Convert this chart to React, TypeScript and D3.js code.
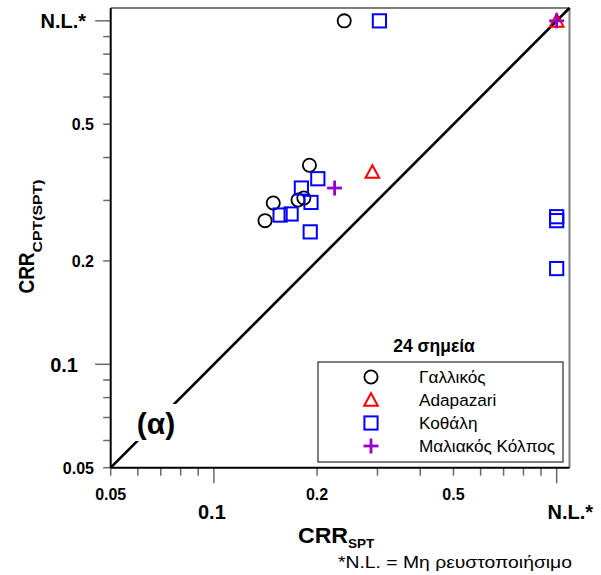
import React from "react";
import * as d3 from "d3";

// N.L. (non-liquefiable) cases are plotted at CRR = 1.0
const NL = 1.0;

const gallikosX = [0.24, 0.19, 0.149, 0.141, 0.176, 0.183];
const gallikosY = [NL, 0.38, 0.295, 0.262, 0.301, 0.305];

const adapazariX = [0.29, NL];
const adapazariY = [0.363, NL];

const kothaliX = [0.304, 0.201, 0.18, 0.192, 0.156, 0.168, 0.191, NL, NL, NL];
const kothaliY = [NL, 0.347, 0.326, 0.296, 0.272, 0.274, 0.243, 0.269, 0.262, 0.19];

const maliakosX = [0.225, NL];
const maliakosY = [0.326, NL];

const majorTicks = [0.1, 1.0];
const minorTicks = [0.05, 0.06, 0.07, 0.08, 0.09, 0.2, 0.3, 0.4, 0.5, 0.6, 0.7, 0.8, 0.9];

const xTickLabels = [
  { value: 0.05, text: "0.05", big: false },
  { value: 0.1, text: "0.1", big: true },
  { value: 0.2, text: "0.2", big: false },
  { value: 0.5, text: "0.5", big: false },
  { value: NL, text: "N.L.*", big: true },
];
const yTickLabels = [
  { value: 0.05, text: "0.05", big: false },
  { value: 0.1, text: "0.1", big: true },
  { value: 0.2, text: "0.2", big: false },
  { value: 0.5, text: "0.5", big: false },
  { value: NL, text: "N.L.*", big: true },
];

const legendTitle = "24 σημεία";
const seriesNames = ["Γαλλικός", "Adapazari", "Κοθάλη", "Μαλιακός Κόλπος"];
const footnote = "*N.L. = Μη ρευστοποιήσιμο";

const FONT = "'Liberation Sans', Arial, Helvetica, sans-serif";
const W = 601;
const H = 575;
const left = 110.7;
const right = 569.5;
const top = 8;
const bottom = 467.7;
const domain: [number, number] = [0.05, 1.09];

const x = d3.scaleLog().domain(domain).range([left, right]);
const y = d3.scaleLog().domain(domain).range([bottom, top]);

const COLORS = ["#000000", "#ff0000", "#0000ff", "#9900cc"];

function Marker({ kind, cx, cy }: { kind: number; cx: number; cy: number }) {
  const c = COLORS[kind];
  if (kind === 0) {
    return <circle cx={cx} cy={cy} r={6.6} fill="none" stroke={c} strokeWidth={1.8} />;
  }
  if (kind === 1) {
    const s = 6.8;
    const pts = [
      [cx, cy - s],
      [cx + s, cy + s * 0.85],
      [cx - s, cy + s * 0.85],
    ]
      .map((p) => p.join(","))
      .join(" ");
    return <polygon points={pts} fill="none" stroke={c} strokeWidth={2} />;
  }
  if (kind === 2) {
    return (
      <rect x={cx - 6.6} y={cy - 6.6} width={13.2} height={13.2} fill="none" stroke={c} strokeWidth={2} />
    );
  }
  const s = 7.5;
  return (
    <g stroke={c} strokeWidth={2.8}>
      <line x1={cx - s} x2={cx + s} y1={cy} y2={cy} />
      <line x1={cx} x2={cx} y1={cy - s} y2={cy + s} />
    </g>
  );
}

export default function App() {
  const series = [
    { xs: gallikosX, ys: gallikosY },
    { xs: adapazariX, ys: adapazariY },
    { xs: kothaliX, ys: kothaliY },
    { xs: maliakosX, ys: maliakosY },
  ];

  const tickColor = "#6a6a6a";
  const frameColor = "#808080";

  const legX = 318;
  const legY = 362;
  const legW = 245;
  const legH = 100;
  const rowYs = [377, 400, 423, 446];

  return (
    <svg
      width={W}
      height={H}
      viewBox={`0 0 ${W} ${H}`}
      style={{ position: "absolute", left: 0, top: 0, background: "#fff" }}
      fontFamily={FONT}
    >
      <rect x={0} y={0} width={W} height={H} fill="#fff" />

      {/* frame: gray top/right, black left/bottom axes */}
      <line x1={left} x2={right} y1={top} y2={top} stroke={frameColor} strokeWidth={2} />
      <line x1={right} x2={right} y1={top} y2={bottom} stroke={frameColor} strokeWidth={2} />

      {/* y ticks */}
      {minorTicks.map((v) => (
        <line key={"ym" + v} x1={left - 7.5} x2={left} y1={y(v)} y2={y(v)} stroke={tickColor} strokeWidth={1.5} />
      ))}
      {majorTicks.map((v) => (
        <line key={"yM" + v} x1={left - 15.5} x2={left} y1={y(v)} y2={y(v)} stroke={tickColor} strokeWidth={1.5} />
      ))}
      {/* x ticks */}
      {minorTicks.map((v) => (
        <line key={"xm" + v} x1={x(v)} x2={x(v)} y1={bottom} y2={bottom + 8} stroke={tickColor} strokeWidth={1.5} />
      ))}
      {majorTicks.map((v) => (
        <line key={"xM" + v} x1={x(v)} x2={x(v)} y1={bottom} y2={bottom + 15.5} stroke={tickColor} strokeWidth={1.5} />
      ))}

      <line x1={left} x2={left} y1={top} y2={bottom} stroke="#000" strokeWidth={2} />
      <line x1={left} x2={right} y1={bottom} y2={bottom} stroke="#000" strokeWidth={2} />

      {/* 1:1 line */}
      <line
        x1={x(domain[0])}
        y1={y(domain[0])}
        x2={x(domain[1])}
        y2={y(domain[1])}
        stroke="#000"
        strokeWidth={2.6}
      />

      {/* panel label */}
      <rect x={134} y={404} width={42} height={37} fill="#fff" />
      <text x={156} y={433.5} textAnchor="middle" fontSize={30} fontWeight="bold">
        (α)
      </text>

      {/* x tick labels */}
      {xTickLabels.map((t) =>
        t.big ? (
          <text
            key={"xl" + t.text}
            x={t.value === NL ? 593 : x(t.value) - 2}
            y={519}
            textAnchor={t.value === NL ? "end" : "middle"}
            fontSize={20}
            fontWeight="bold"
          >
            {t.text}
          </text>
        ) : (
          <text key={"xl" + t.text} x={x(t.value)} y={500} textAnchor="middle" fontSize={16} fontWeight="bold">
            {t.text}
          </text>
        )
      )}

      {/* y tick labels */}
      {yTickLabels.map((t) =>
        t.big ? (
          <text
            key={"yl" + t.text}
            x={t.value === NL ? 86 : 78}
            y={y(t.value) + 7.5}
            textAnchor="end"
            fontSize={20}
            fontWeight="bold"
          >
            {t.text}
          </text>
        ) : (
          <text key={"yl" + t.text} x={94} y={y(t.value) + 6} textAnchor="end" fontSize={16} fontWeight="bold">
            {t.text}
          </text>
        )
      )}

      {/* axis titles */}
      <text x={298} y={543} fontSize={22} fontWeight="bold">
        <tspan textLength={50} lengthAdjust="spacingAndGlyphs">CRR</tspan>
        <tspan dy={5} fontSize={13.5}>SPT</tspan>
      </text>
      <text transform="translate(33.5,293.5) rotate(-90)" fontSize={22} fontWeight="bold">
        <tspan textLength={41} lengthAdjust="spacingAndGlyphs">CRR</tspan>
        <tspan dy={8} fontSize={13.5} textLength={73} lengthAdjust="spacingAndGlyphs">
          CPT(SPT)
        </tspan>
      </text>

      <text x={338} y={568} fontSize={17} textLength={234} lengthAdjust="spacingAndGlyphs">
        {footnote}
      </text>

      {/* data */}
      {series.map((s, k) => (
        <g key={"s" + k}>
          {s.xs.map((xv, i) => (
            <Marker key={i} kind={k} cx={x(xv)} cy={y(s.ys[i])} />
          ))}
        </g>
      ))}

      {/* legend */}
      <text x={434} y={352} textAnchor="middle" fontSize={17.5} fontWeight="bold">
        {legendTitle}
      </text>
      <rect x={legX} y={legY} width={legW} height={legH} fill="#fff" stroke="#000" strokeWidth={1} />
      {seriesNames.map((name, k) => (
        <g key={"lg" + k}>
          <Marker kind={k} cx={371} cy={rowYs[k]} />
          <text x={419} y={rowYs[k] + 6} fontSize={17.2}>
            {name}
          </text>
        </g>
      ))}
    </svg>
  );
}
